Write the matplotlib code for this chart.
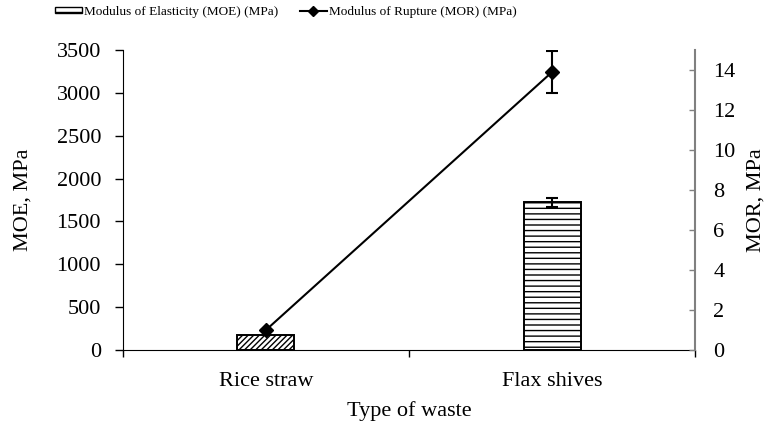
import matplotlib

matplotlib.use('Agg')
import matplotlib.pyplot as plt
import matplotlib.lines as mlines
import matplotlib.patches as mpatches

plt.rcParams['font.family'] = ['Liberation Serif', 'DejaVu Serif']
plt.rcParams['hatch.linewidth'] = 1.0

# data
waste_types = ['Rice straw', 'Flax shives']
moe_values = [180, 1725]
moe_errors = [0, 52]
mor_values = [1.0, 13.9]
mor_errors = [0, 1.06]
bar_hatches = ['//////', '---']

fig = plt.figure(figsize=(7.71, 4.26), dpi=100)
ax = fig.add_axes([0.159, 0.178, 0.743, 0.705])

x = list(range(len(waste_types)))

# MOE bars (left axis)
for i in x:
  ax.bar(i,
         moe_values[i],
         width=0.2,
         color='white',
         edgecolor='black',
         linewidth=1.4,
         hatch=bar_hatches[i],
         zorder=2)
ax.errorbar(x[1:],
            moe_values[1:],
            yerr=moe_errors[1:],
            fmt='none',
            ecolor='black',
            elinewidth=1.5,
            capsize=4,
            capthick=1.5,
            zorder=3)

ax.set_xlim(-0.5, 1.5)
ax.set_ylim(0, 3500)
ax.set_yticks(range(0, 3501, 500))
ax.set_xticks([-0.5, 0.5, 1.5])
ax.set_xticklabels([])
ax.set_xticks(x, minor=True)
ax.set_xticklabels(waste_types, minor=True)
ax.tick_params(axis='x', which='major', direction='out', length=5, width=1)
ax.tick_params(axis='x', which='minor', length=0, labelsize=16, pad=16)
ax.tick_params(axis='y', direction='out', length=6, width=1, labelsize=16,
               pad=9.5)
ax.spines['top'].set_visible(False)
ax.spines['right'].set_visible(False)
ax.set_ylabel('MOE, MPa', fontsize=16, labelpad=17)
ax.set_xlabel('Type of waste', fontsize=16, labelpad=7)

# MOR line (right axis)
ax2 = ax.twinx()
ax2.errorbar(x,
             mor_values,
             yerr=mor_errors,
             color='black',
             marker='D',
             markersize=7.5,
             linewidth=1.5,
             elinewidth=1.5,
             capsize=4.5,
             capthick=1.5)
ax2.set_ylim(0, 15)
ax2.set_yticks(range(0, 15, 2))
ax2.tick_params(axis='y', direction='in', length=4, width=1, labelsize=16,
                pad=13, color='gray')
for s in ['top', 'left', 'bottom']:
  ax2.spines[s].set_visible(False)
ax2.spines['right'].set_color('gray')
ax2.spines['right'].set_linewidth(1.5)
ax2.set_ylabel('MOR, MPa', fontsize=16, labelpad=8)

# legend
legend_handles = [
    mpatches.Patch(facecolor='white',
                   edgecolor='black',
                   hatch='--',
                   linewidth=1.0,
                   label='Modulus of Elasticity (MOE) (MPa)'),
    mlines.Line2D([], [],
                  color='black',
                  marker='D',
                  markersize=5.5,
                  linewidth=1.5,
                  label='Modulus of Rupture (MOR) (MPa)'),
]
fig.legend(handles=legend_handles,
           loc='center left',
           bbox_to_anchor=(0.071, 0.972),
           ncol=2,
           frameon=False,
           fontsize=9.5,
           handlelength=2.05,
           handleheight=0.35,
           handletextpad=0.2,
           columnspacing=1.6,
           borderpad=0,
           borderaxespad=0)

plt.savefig('out.png', dpi=100)
plt.close()
